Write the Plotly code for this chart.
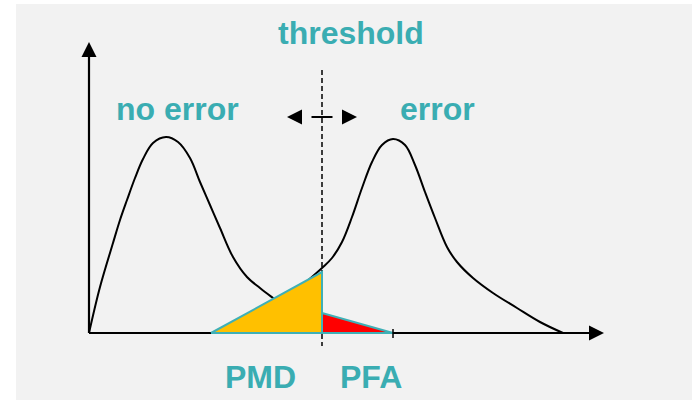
import plotly.graph_objects as go

# schematic units: 1 unit = 10 px of the original picture, origin at the axes corner
no_error_x = [0, 1.1, 2.4, 3.1, 3.8, 4.6, 5.4, 6.4, 7.7, 8.9, 10.1, 11.1, 12.1, 13.1, 14.4, 15.8, 17.1, 18.4, 21.1]
no_error_y = [0, 4.6, 9.0, 11.3, 13.3, 15.5, 17.4, 19.0, 19.6, 19.1, 17.5, 15.1, 12.8, 10.5, 7.6, 5.6, 4.5, 3.5, 1.5]

error_x = [21.6, 23.3, 24.3, 25.3, 26.3, 27.3, 28.3, 29.3, 30.4, 31.6, 32.6, 33.6, 34.6, 35.8, 36.8,
           38.4, 40.4, 42.8, 45.1, 47.4]
error_y = [5.0, 6.5, 7.5, 9.1, 11.6, 14.5, 17.1, 18.8, 19.4, 18.8, 16.8, 14.1, 11.5, 8.6, 7.1,
           5.5, 4.0, 2.5, 1.1, 0]

threshold = 23.3
pmd_start = 12.2
pmd_height = 6.1
pfa_end = 30.4
pfa_height = 2.0

x_axis_end = 51.5
y_axis_end = 29.1
threshold_top = 26.3
threshold_bottom = -1.3
shift_y = 21.6

labels = ["threshold", "no error", "error", "PMD", "PFA"]
label_x = [26.15, 8.85, 34.85, 17.1, 28.2]
label_y = [28.8, 21.2, 21.2, -5.6, -5.6]

TEAL = "#3AADB2"
EDGE = "#3FB0B6"

fig = go.Figure()

# axes
fig.add_trace(go.Scatter(x=[0, x_axis_end - 1.4], y=[0, 0], mode="lines",
                         line=dict(color="black", width=2.2), hoverinfo="skip"))
fig.add_trace(go.Scatter(x=[0, 0], y=[0, y_axis_end - 1.4], mode="lines",
                         line=dict(color="black", width=2.2), hoverinfo="skip"))

# threshold
fig.add_trace(go.Scatter(x=[threshold, threshold], y=[threshold_top, threshold_bottom], mode="lines",
                         line=dict(color="black", width=1.5, dash="5px,3px"), hoverinfo="skip"))

# distributions
for xs, ys in [(no_error_x, no_error_y), (error_x, error_y)]:
    fig.add_trace(go.Scatter(x=xs, y=ys, mode="lines",
                             line=dict(color="black", width=2, shape="spline", smoothing=1.0),
                             hoverinfo="skip"))

# PMD and PFA areas
fig.add_trace(go.Scatter(x=[pmd_start, threshold, threshold, pmd_start], y=[0, pmd_height, 0, 0],
                         mode="lines", fill="toself", fillcolor="#FFC000",
                         line=dict(color=EDGE, width=2), hoverinfo="skip"))
fig.add_trace(go.Scatter(x=[threshold, pfa_end, threshold, threshold], y=[pfa_height, 0, 0, pfa_height],
                         mode="lines", fill="toself", fillcolor="#FF0000",
                         line=dict(color=EDGE, width=2), hoverinfo="skip"))

# small tick at the PFA end
fig.add_trace(go.Scatter(x=[pfa_end, pfa_end], y=[0.4, -0.5], mode="lines",
                         line=dict(color="black", width=1.5), hoverinfo="skip"))

# threshold shift marker
fig.add_trace(go.Scatter(x=[threshold - 1.05, threshold + 1.05], y=[shift_y, shift_y], mode="lines",
                         line=dict(color="black", width=2), hoverinfo="skip"))
fig.add_trace(go.Scatter(x=[threshold - 3.5, threshold + 3.5], y=[shift_y, shift_y], mode="markers",
                         marker=dict(symbol=["arrow-left", "arrow-right"], size=15, color="black",
                                     line=dict(width=0)),
                         hoverinfo="skip"))

# axis arrowheads
fig.add_trace(go.Scatter(x=[x_axis_end, 0], y=[0, y_axis_end], mode="markers",
                         marker=dict(symbol=["arrow-right", "arrow-up"], size=15, color="black",
                                     line=dict(width=0)),
                         hoverinfo="skip"))

for t, x, y in zip(labels, label_x, label_y):
    fig.add_annotation(x=x, y=y - 0.75, text="<b>" + t + "</b>", showarrow=False,
                       xanchor="center", yanchor="bottom",
                       font=dict(family="Liberation Sans, Arial", size=32, color=TEAL))

fig.add_shape(type="rect", xref="paper", yref="paper", x0=16 / 692, x1=1, y0=4 / 404, y1=400 / 404,
              fillcolor="#F2F2F2", line=dict(width=0), layer="below")

fig.update_layout(
    width=692, height=404,
    margin=dict(l=0, r=0, t=0, b=0),
    paper_bgcolor="white", plot_bgcolor="rgba(0,0,0,0)",
    showlegend=False,
    xaxis=dict(range=[-8.9, 60.3], visible=False, fixedrange=True),
    yaxis=dict(range=[-7.1, 33.3], visible=False, fixedrange=True),
)

fig.write_html("out.html", config=dict(displayModeBar=False),
               post_script="document.body.style.margin='0';")
